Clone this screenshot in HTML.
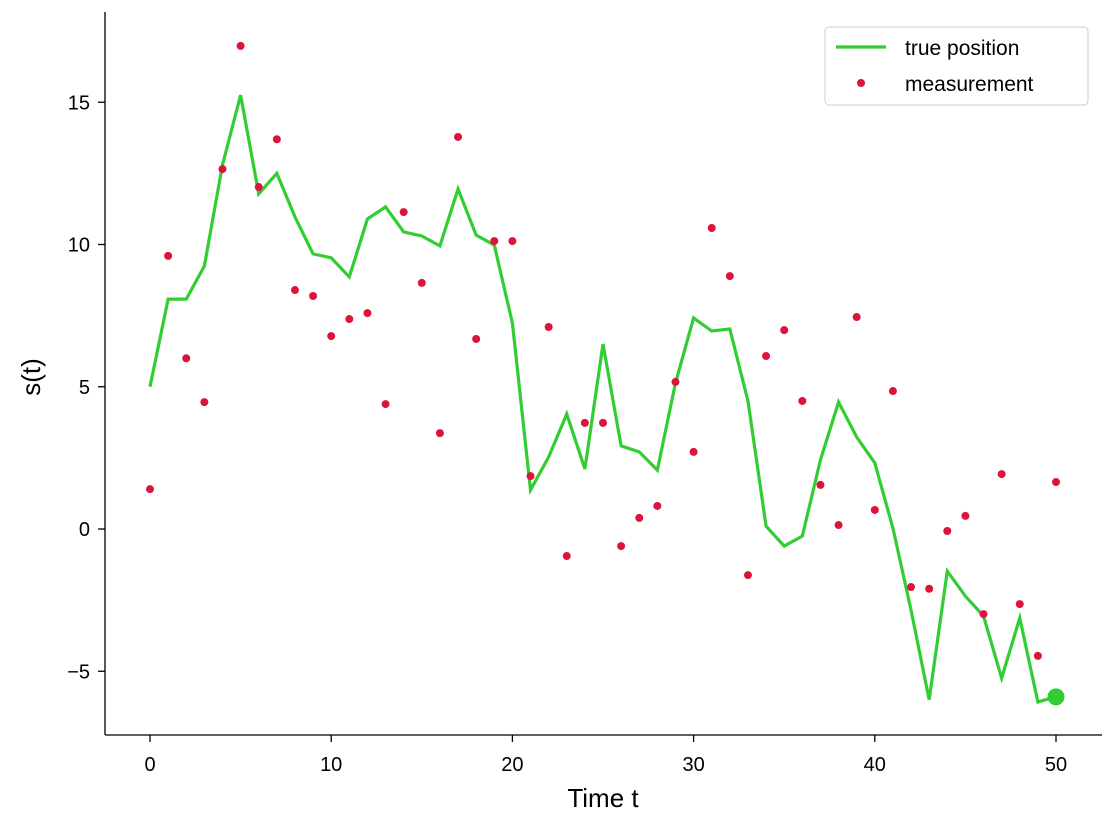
<!DOCTYPE html>
<html><head><meta charset="utf-8"><style>
body{margin:0;background:#fff}
svg{display:block;font-family:"Liberation Sans","DejaVu Sans",sans-serif}
</style></head><body>
<svg id="chart" width="1116" height="827" viewBox="0 0 1116 827" xmlns="http://www.w3.org/2000/svg"></svg>
<script>
const times = Array.from({length:51},(_,i)=>i);
const truePosition = [5.0,8.08,8.08,9.24,12.8,15.25,11.78,12.5,10.97,9.67,9.53,8.86,10.9,11.32,10.44,10.3,9.95,11.95,10.33,9.98,7.24,1.37,2.53,4.04,2.11,6.5,2.92,2.71,2.07,5.13,7.42,6.96,7.03,4.5,0.1,-0.6,-0.25,2.43,4.46,3.23,2.32,0.03,-2.85,-6.0,-1.48,-2.36,-3.06,-5.24,-3.13,-6.08,-5.9];
const measurements = [1.4,9.6,6.0,4.46,12.65,16.98,12.02,13.7,8.4,8.19,6.78,7.38,7.59,4.39,11.14,8.65,3.37,13.78,6.68,10.12,10.12,1.86,7.1,-0.95,3.73,3.73,-0.6,0.39,0.81,5.17,2.71,10.58,8.89,-1.62,6.08,6.99,4.5,1.55,0.14,7.45,0.67,4.85,-2.04,-2.1,-0.07,0.46,-2.99,1.93,-2.64,-4.46,1.65];
const xTicks = [0,10,20,30,40,50];
const yTicks = [-5,0,5,10,15];

const NS="http://www.w3.org/2000/svg";
const svg=document.getElementById('chart');
const X=v=>150+v*(1056-150)/50;
const Y=v=>529-v*28.45;
function mk(tag,attrs,parent){const e=document.createElementNS(NS,tag);for(const k in attrs)e.setAttribute(k,attrs[k]);(parent||svg).appendChild(e);return e;}

let e;
e=mk('line',{x1:105,y1:12,x2:105,y2:735,stroke:'#000','stroke-width':1.3});


e=mk('line',{x1:105,y1:735,x2:1102,y2:735,stroke:'#000','stroke-width':1.3});



xTicks.forEach(t=>{
  mk('line',{x1:X(t),y1:735,x2:X(t),y2:742,stroke:'#000','stroke-width':1.3});
  const tx=mk('text',{x:X(t),y:771,'font-size':20,'text-anchor':'middle',fill:'#000'});
  tx.textContent=t;
  
  
});
yTicks.forEach(t=>{
  mk('line',{x1:98,y1:Y(t),x2:105,y2:Y(t),stroke:'#000','stroke-width':1.3});
  const tx=mk('text',{x:90,y:Y(t)+7,'font-size':20,'text-anchor':'end',fill:'#000'});
  tx.textContent=t<0?'\u2212'+Math.abs(t):t;
  
  
});
e=mk('text',{x:603,y:807,'font-size':26,'text-anchor':'middle'});e.textContent='Time t';


e=mk('text',{x:40,y:377,'font-size':26,'text-anchor':'middle',transform:'rotate(-90 40 377)'});e.textContent='s(t)';



e=mk('polyline',{points:times.map(t=>X(t)+','+Y(truePosition[t])).join(' '),fill:'none',stroke:'#32cd32','stroke-width':3.2,'stroke-linejoin':'miter'});


times.forEach(t=>{
  const c=mk('circle',{cx:X(t),cy:Y(measurements[t]),r:4,fill:'#dc143c'});
  
  
});
const last=times.length-1;
e=mk('circle',{cx:X(times[last]),cy:Y(truePosition[last]),r:8.5,fill:'#32cd32'});



const lg=mk('g',{});


mk('rect',{x:825,y:27,width:263,height:78,rx:4,fill:'#fff',stroke:'#ccc','stroke-width':1},lg);
mk('line',{x1:836,y1:47,x2:886,y2:47,stroke:'#32cd32','stroke-width':3.2},lg);
e=mk('text',{x:905,y:55,'font-size':21},lg);e.textContent='true position';


mk('circle',{cx:861,cy:83,r:4,fill:'#dc143c'},lg);
e=mk('text',{x:905,y:91,'font-size':21},lg);e.textContent='measurement';


</script>
</body></html>
